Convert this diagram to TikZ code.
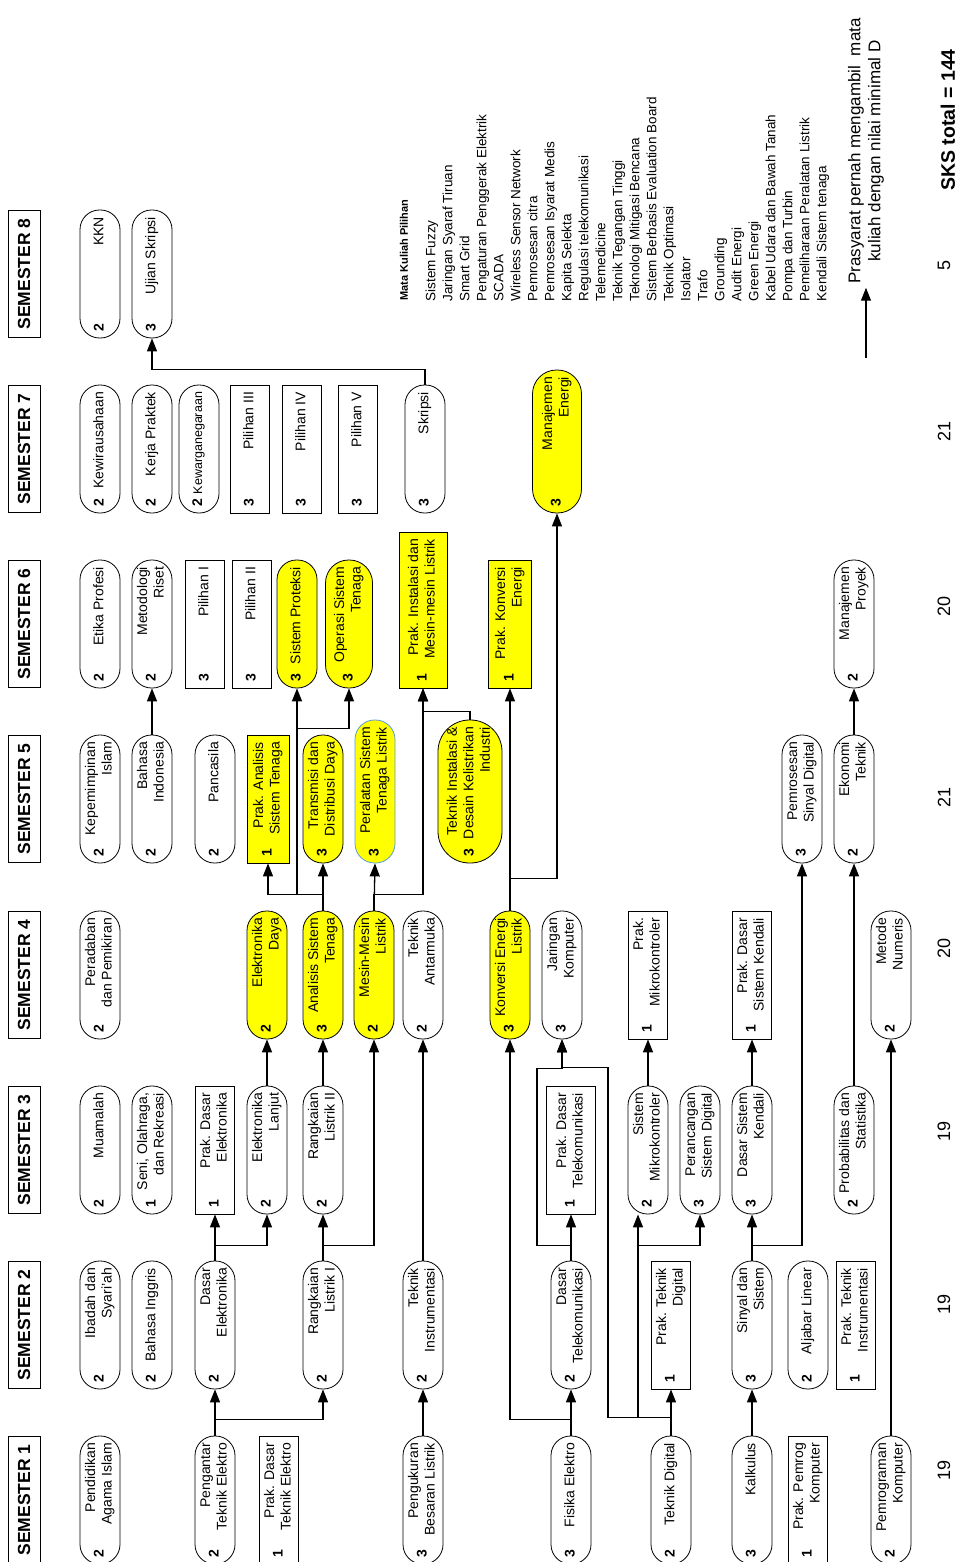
\documentclass[tikz,border=0pt]{standalone}
\usepackage{fontspec}
\setmainfont{Liberation Sans}
\usepackage{tikz}
\usetikzlibrary{arrows.meta,calc}
\definecolor{kuning}{RGB}{255,255,0}
\definecolor{biru}{RGB}{91,155,213}
\newcommand{\matkul}[3][114pt]{\hbox to #1{\textbf{#2}\hfill\begin{tabular}{@{}r@{}}#3\end{tabular}}}
\tikzset{
    course/.style = {
        draw,
        shape=rectangle,
        rotate=90,
        minimum width=128pt,
        minimum height=40pt,
        inner xsep=7pt,
        inner ysep=2pt,
        line width=0.8pt,
        font=\fontsize{14}{16.5}\selectfont
    },
    pill/.style = {
        course,
        rounded corners=19.5pt
    },
    prak/.style = {
        course,
        minimum height=39pt
    },
    inti/.style = {
        fill=kuning
    },
    semester/.style = {
        draw,
        shape=rectangle,
        rotate=90,
        minimum width=127pt,
        minimum height=32pt,
        line width=0.8pt,
        font=\fontsize{17.5}{20}\selectfont\bfseries
    },
    total/.style = {
        rotate=90,
        font=\fontsize{18}{20}\selectfont
    },
    >={Triangle[length=13pt,width=10pt]},
}

\begin{document}
\begin{tikzpicture}[x=1pt,y=-1pt,line width=1.3pt]
    \useasboundingbox (0,0) rectangle (958,1562);

    % semester
    \node[semester] (sem1) at (24,1500) {SEMESTER 1};
    \node[semester] (sem2) at (24,1325) {SEMESTER 2};
    \node[semester] (sem3) at (24,1150) {SEMESTER 3};
    \node[semester] (sem4) at (24,975) {SEMESTER 4};
    \node[semester] (sem5) at (24,799) {SEMESTER 5};
    \node[semester] (sem6) at (24,624) {SEMESTER 6};
    \node[semester] (sem7) at (24,449) {SEMESTER 7};
    \node[semester] (sem8) at (24,274) {SEMESTER 8};

    % semester 1
    \node[pill] (pai) at (100,1500) {\matkul{2}{Pendidikan\\Agama Islam}};
    \node[pill] (pte) at (215,1500) {\matkul{2}{Pengantar\\Teknik Elektro}};
    \node[prak] (pdte) at (279,1500) {\matkul{1}{Prak. Dasar\\Teknik Elektro}};
    \node[pill] (pbl) at (423,1500) {\matkul{3}{Pengukuran\\Besaran Listrik}};
    \node[pill] (fel) at (571,1500) {\matkul{3}{Fisika Elektro}};
    \node[pill] (tdg) at (671,1500) {\matkul{2}{Teknik Digital}};
    \node[pill] (klk) at (752,1500) {\matkul{3}{Kalkulus}};
    \node[prak] (ppk) at (808,1500) {\matkul{1}{Prak. Pemrog\\Komputer}};
    \node[pill] (pkm) at (891,1500) {\matkul{2}{Pemrograman\\Komputer}};

    % semester 2
    \node[pill] (ids) at (100,1325) {\matkul{2}{Ibadah dan\\Syari'ah}};
    \node[pill] (bing) at (152,1325) {\matkul{2}{Bahasa Inggris}};
    \node[pill] (dasel) at (215,1325) {\matkul{2}{Dasar\\Elektronika}};
    \node[pill] (rl1) at (323,1325) {\matkul{2}{Rangkaian\\Listrik I}};
    \node[pill] (tin) at (423,1325) {\matkul{2}{Teknik\\Instrumentasi}};
    \node[pill] (dtk) at (571,1325) {\matkul{2}{Dasar\\Telekomunikasi}};
    \node[prak] (ptd) at (671,1325) {\matkul{1}{Prak. Teknik\\Digital}};
    \node[pill] (sns) at (752,1325) {\matkul{3}{Sinyal dan\\Sistem}};
    \node[pill] (alj) at (808,1325) {\matkul{2}{Aljabar Linear}};
    \node[prak] (pti) at (856,1325) {\matkul{1}{Prak. Teknik\\Instrumentasi}};

    % semester 3
    \node[pill] (mua) at (100,1150) {\matkul{2}{Muamalah}};
    \node[pill] (sor) at (152,1150) {\matkul{1}{Seni, Olahraga,\\dan Rekreasi}};
    \node[prak] (pde) at (215,1150) {\matkul{1}{Prak. Dasar\\Elektronika}};
    \node[pill] (ell) at (267,1150) {\matkul{2}{Elektronika\\Lanjut}};
    \node[pill] (rl2) at (323,1150) {\matkul{2}{Rangkaian\\Listrik II}};
    \node[prak, minimum height=49pt] (pdt) at (571,1150) {\matkul{1}{Prak. Dasar\\Telekomunikasi}};
    \node[pill] (smk) at (648,1150) {\matkul{2}{Sistem\\Mikrokontroler}};
    \node[pill] (psd) at (700,1150) {\matkul{3}{Perancangan\\Sistem Digital}};
    \node[pill] (dsk) at (752,1150) {\matkul{3}{Dasar Sistem\\Kendali}};
    \node[pill] (pst) at (854,1150) {\matkul{2}{Probabilitas dan\\Statistika}};

    % semester 4
    \node[pill] (pdp) at (100,975) {\matkul{2}{Peradaban\\dan Pemikiran}};
    \node[pill, inti] (eld) at (267,975) {\matkul{2}{Elektronika\\Daya}};
    \node[pill, inti] (ast) at (323,975) {\matkul{3}{Analisis Sistem\\Tenaga}};
    \node[pill, inti] (mml) at (374,975) {\matkul{2}{Mesin-Mesin\\Listrik}};
    \node[pill] (tam) at (423,975) {\matkul{2}{Teknik\\Antarmuka}};
    \node[pill, inti] (kel) at (510,975) {\matkul{3}{Konversi Energi\\Listrik}};
    \node[pill] (jk) at (562,975) {\matkul{3}{Jaringan\\Komputer}};
    \node[prak] (pmk) at (648,975) {\matkul{1}{Prak.\\Mikrokontroler}};
    \node[prak] (pdsk) at (752,975) {\matkul{1}{Prak. Dasar\\Sistem Kendali}};
    \node[pill] (mnu) at (891,975) {\matkul{2}{Metode\\Numeris}};

    % semester 5
    \node[pill] (kpi) at (100,799) {\matkul{2}{Kepemimpinan\\Islam}};
    \node[pill] (bin) at (152,799) {\matkul{2}{Bahasa\\Indonesia}};
    \node[pill] (pcs) at (215,799) {\matkul{2}{Pancasila}};
    \node[prak, inti, minimum height=42pt] (past) at (268,799) {\matkul{1}{Prak. Analisis\\Sistem Tenaga}};
    \node[pill, inti] (tdd) at (323,799) {\matkul{3}{Transmisi dan\\Distribusi Daya}};
    \node[pill, inti, draw=biru, minimum width=143pt] (pstl) at (375,791.5) {\matkul[129pt]{3}{Peralatan Sistem\\Tenaga Listrik}};
    \node[pill, inti, minimum width=143pt, minimum height=64pt, rounded corners=31.5pt] (tidki) at (470,791.5) {\matkul[129pt]{3}{Teknik Instalasi \&\\Desain Kelistrikan\\Industri}};
    \node[pill] (psdg) at (802,799) {\matkul{3}{Pemrosesan\\Sinyal Digital}};
    \node[pill] (ekt) at (854,799) {\matkul{2}{Ekonomi\\Teknik}};

    % semester 6
    \node[pill] (etp) at (100,624) {\matkul{2}{Etika Profesi}};
    \node[pill] (mri) at (152,624) {\matkul{2}{Metodologi\\Riset}};
    \node[prak] (pl1) at (205,624) {\matkul{3}{Pilihan I}};
    \node[prak] (pl2) at (252,624) {\matkul{3}{Pilihan II}};
    \node[pill, inti] (spr) at (297,624) {\matkul{3}{Sistem Proteksi}};
    \node[pill, inti, minimum height=47pt, rounded corners=23pt] (ost) at (349,624) {\matkul{3}{Operasi Sistem\\Tenaga}};
    \node[prak, inti, minimum width=156pt, minimum height=48pt] (pimml) at (423,610) {\matkul[142pt]{1}{Prak. Instalasi dan\\Mesin-mesin Listrik}};
    \node[prak, inti, minimum height=43pt] (pke) at (510,624) {\matkul{1}{Prak. Konversi\\Energi}};
    \node[pill] (mpr) at (854,624) {\matkul{2}{Manajemen\\Proyek}};

    % semester 7
    \node[pill] (kwu) at (100,449) {\matkul{2}{Kewirausahaan}};
    \node[pill] (krp) at (152,449) {\matkul{2}{Kerja Praktek}};
    \node[pill, font=\fontsize{12.5}{15}\selectfont] (kwn) at (199,449) {\matkul{\fontsize{14}{16}\selectfont 2}{Kewarganegaraan}};
    \node[prak] (pl3) at (250,449) {\matkul{3}{Pilihan III}};
    \node[prak] (pl4) at (302,449) {\matkul{3}{Pilihan IV}};
    \node[prak] (pl5) at (358,449) {\matkul{3}{Pilihan V}};
    \node[pill] (skr) at (425,449) {\matkul{3}{Skripsi}};
    \node[pill, inti, minimum width=143pt, minimum height=49pt, rounded corners=24pt] (mne) at (557,441.5) {\matkul[129pt]{3}{Manajemen\\Energi}};

    % semester 8
    \node[pill] (kkn) at (100,274) {\matkul{2}{KKN}};
    \node[pill] (usk) at (152,274) {\matkul{3}{Ujian Skripsi}};

    % prasyarat
    \path[draw, ->] (pte.east) -- (dasel.west);
    \path[draw, ->] (pte.east) -- ++(0,-16) -| (rl1.west);
    \path[draw, ->] (dasel.east) -- (pde.west);
    \path[draw, ->] (dasel.east) -- ++(0,-15) -| (ell.west);
    \path[draw, ->] (rl1.east) -- (rl2.west);
    \path[draw, ->] (rl1.east) -- ++(0,-15) -| (mml.west);
    \path[draw, ->] (pbl.east) -- (tin.west);
    \path[draw, ->] (tin.east) -- (tam.west);
    \path[draw, ->] (ell.east) -- (eld.west);
    \path[draw, ->] (rl2.east) -- (ast.west);
    \path[draw, ->] (ast.east) -- ++(0,-16) -| (past.west);
    \path[draw, ->] (ast.east) -- (tdd.west);
    \path[draw, ->] (ast.east) -- ++(0,-16) -| (spr.west);
    \path[draw, ->] (spr.west) ++(0,40) -| (ost.west);
    \path[draw, ->] (mml.east) -- (pstl.west);
    \path[draw, ->] (mml.east) -- ++(0,-16) -| (pimml.west);
    \path[draw, ->] (tidki.east) -- ++(0,-8) -| (pimml.west);
    \path[draw, ->] (fel.east) -- (dtk.west);
    \path[draw, ->] (fel.east) -- ++(0,-16) -| (kel.west);
    \path[draw, ->] (dtk.east) -- (pdt.west);
    \path[draw, ->] (dtk.east) -- ++(0,-15) -| ++(-34,-177) -| (jk.west);
    \path[draw, ->] (tdg.east) -- (ptd.west);
    \path[draw, ->] (tdg.east) -- ++(0,-18) -| ([xshift=-10pt]smk.west);
    \path[draw, ->] ([xshift=-10pt]smk.west) ++(0,31) -| (psd.west);
    \path[draw, ->] (tdg.east) -- ++(0,-18) -| ++(-63,-350) -| (jk.west);
    \path[draw, ->] (klk.east) -- (sns.west);
    \path[draw, ->] (sns.east) -- (dsk.west);
    \path[draw, ->] (sns.east) -- ++(0,-15) -| (psdg.west);
    \path[draw, ->] (dsk.east) -- (pdsk.west);
    \path[draw, ->] (smk.east) -- (pmk.west);
    \path[draw, ->] (pst.east) -- (ekt.west);
    \path[draw, ->] (pkm.east) -- (mnu.west);
    \path[draw, ->] (ekt.east) -- (mpr.west);
    \path[draw, ->] (kel.east) -- (pke.west);
    \path[draw, ->] (kel.east) -- ++(0,-32) -| (mne.west);
    \path[draw, ->] (bin.east) -- (mri.west);
    \path[draw, ->] (skr.east) -- ++(0,-15) -| (usk.west);

    % mata kuliah pilihan
    \node[rotate=90, anchor=west, inner sep=0pt, font=\fontsize{11}{13}\selectfont\bfseries] (judul) at (404,301) {Mata Kuliah Pilihan};
    \node[rotate=90, anchor=north west, inner sep=0pt, align=left, font=\fontsize{13.5}{17}\selectfont] (daftar) at (425,302) {Sistem Fuzzy\\Jaringan Syaraf Tiruan\\Smart Grid\\Pengaturan Penggerak Elektrik\\SCADA\\Wireless Sensor Network\\Pemrosesan citra\\Pemrosesan Isyarat Medis\\Kapita Selekta\\Regulasi telekomunikasi\\Telemedicine\\Teknik Tegangan Tinggi\\Teknologi Mitigasi Bencana\\Sistem Berbasis Evaluation Board\\Teknik Optimasi\\Isolator\\Trafo\\Grounding\\Audit Energi\\Green Energi\\Kabel Udara dan Bawah Tanah\\Pompa dan Turbin\\Pemeliharaan Peralatan Listrik\\Kendali Sistem tenaga};

    % keterangan
    \coordinate (leg) at (866,358);
    \node[rotate=90, align=center, font=\fontsize{17}{20}\selectfont] (syarat) at (866,151) {Prasyarat pernah mengambil\ \ mata\\kuliah dengan nilai minimal D};
    \path[draw, ->] (leg) -- (syarat.west);

    % jumlah sks
    \node[total] (t1) at (944,1470) {19};
    \node[total] (t2) at (944,1304) {19};
    \node[total] (t3) at (944,1131) {19};
    \node[total] (t4) at (944,948) {20};
    \node[total] (t5) at (944,797) {21};
    \node[total] (t6) at (944,606) {20};
    \node[total] (t7) at (944,431) {21};
    \node[total] (t8) at (944,265) {5};
    \node[total, font=\fontsize{19.5}{22}\selectfont\bfseries] (tsks) at (948,120) {SKS total = 144};
\end{tikzpicture}
\end{document}
